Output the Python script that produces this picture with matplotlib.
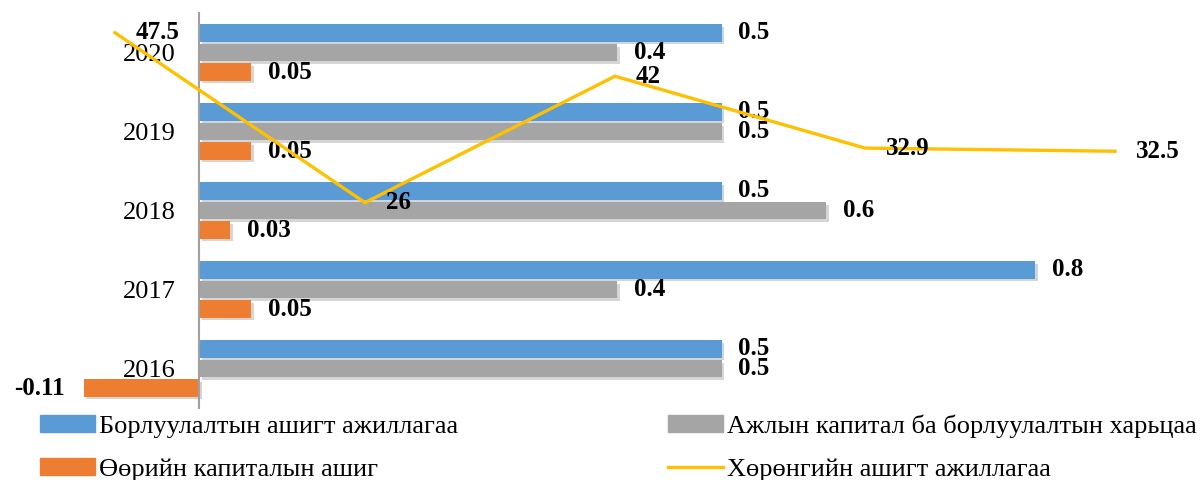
import matplotlib
matplotlib.use("Agg")
import matplotlib.pyplot as plt
import matplotlib.patheffects as pe
from matplotlib.patches import Patch
from matplotlib.lines import Line2D
import numpy as np

plt.rcParams['font.family'] = ['Liberation Serif', 'DejaVu Serif']

# Өгөгдөл
years = ['2016', '2017', '2018', '2019', '2020']
sales_margin = [0.5, 0.8, 0.5, 0.5, 0.5]        # Борлуулалтын ашигт ажиллагаа
wc_ratio = [0.5, 0.4, 0.6, 0.5, 0.4]            # Ажлын капитал ба борлуулалтын харьцаа
roe = [-0.11, 0.05, 0.03, 0.05, 0.05]           # Өөрийн капиталын ашиг
roa = [47.5, 26, 42, 32.9, 32.5]                # Хөрөнгийн ашигт ажиллагаа

series_names = ['Борлуулалтын ашигт ажиллагаа',
                'Ажлын капитал ба борлуулалтын харьцаа',
                'Өөрийн капиталын ашиг',
                'Хөрөнгийн ашигт ажиллагаа']

c_blue = '#5B9BD5'
c_gray = '#A5A5A5'
c_orange = '#ED7D31'
c_yellow = '#FFC000'

fig = plt.figure(figsize=(12.04, 4.8), dpi=100)
pos = [0.0, 1 - 408 / 480, 1.0, 395 / 480]
ax = fig.add_axes(pos)

y = np.arange(len(years))
h = 0.22
step = 0.247
shadow = [pe.SimplePatchShadow(offset=(2, -2), alpha=0.2), pe.Normal()]

b1 = ax.barh(y + step, sales_margin, height=h, color=c_blue, path_effects=shadow)
b2 = ax.barh(y, wc_ratio, height=h, color=c_gray, path_effects=shadow)
b3 = ax.barh(y - step, roe, height=h, color=c_orange, path_effects=shadow)

for bars, vals in [(b1, sales_margin), (b2, wc_ratio), (b3, roe)]:
    for bar, v in zip(bars, vals):
        yc = bar.get_y() + bar.get_height() / 2
        if v >= 0:
            ax.annotate(f'{v:g}', (v, yc), xytext=(12, 0), textcoords='offset points',
                        ha='left', va='center', fontsize=18, fontweight='bold',
                        annotation_clip=False)
        else:
            ax.annotate(f'{v:g}', (v, yc), xytext=(-14, 0), textcoords='offset points',
                        ha='right', va='center', fontsize=18, fontweight='bold',
                        annotation_clip=False)

ax.set_xlim(-199 / 1045, (1204 - 199) / 1045)
ax.set_ylim(-0.5, len(years) - 0.5)
for s in ['top', 'right', 'bottom']:
    ax.spines[s].set_visible(False)
ax.spines['left'].set_position(('data', 0))
ax.spines['left'].set_color('#A0A0A0')
ax.spines['left'].set_linewidth(1.5)
ax.set_xticks([])
ax.set_yticks(y)
ax.set_yticklabels(years, fontsize=19)
ax.tick_params(axis='y', length=0, pad=17)

# хоёрдогч тэнхлэг - шугаман график
ax2 = fig.add_axes(pos, frameon=False)
x2 = np.arange(len(roa))
ln, = ax2.plot(x2, roa, color=c_yellow, lw=2.4, solid_joinstyle='miter')
for xi, v in zip(x2, roa):
    ax2.annotate(f'{v:g}', (xi, v), xytext=(15, 0), textcoords='offset points',
                 ha='left', va='center', fontsize=18, fontweight='bold',
                 annotation_clip=False)
ax2.set_xlim(-115 / 250, (1204 - 115) / 250)
ax2.set_ylim(0, 50)
ax2.axis('off')

handles = [Patch(color=c_blue), Patch(color=c_orange),
           Patch(color=c_gray), Line2D([], [], color=c_yellow, lw=2.4)]
fig.legend(handles, [series_names[0], series_names[2], series_names[1], series_names[3]],
           loc='upper left', bbox_to_anchor=(40 / 1204, 1 - 414 / 480), ncol=2,
           frameon=False, fontsize=19, handlelength=2.1, handleheight=0.6,
           handletextpad=0.13, columnspacing=7.95, labelspacing=0.78,
           borderpad=0, borderaxespad=0)

fig.savefig('out.png', dpi=100)
